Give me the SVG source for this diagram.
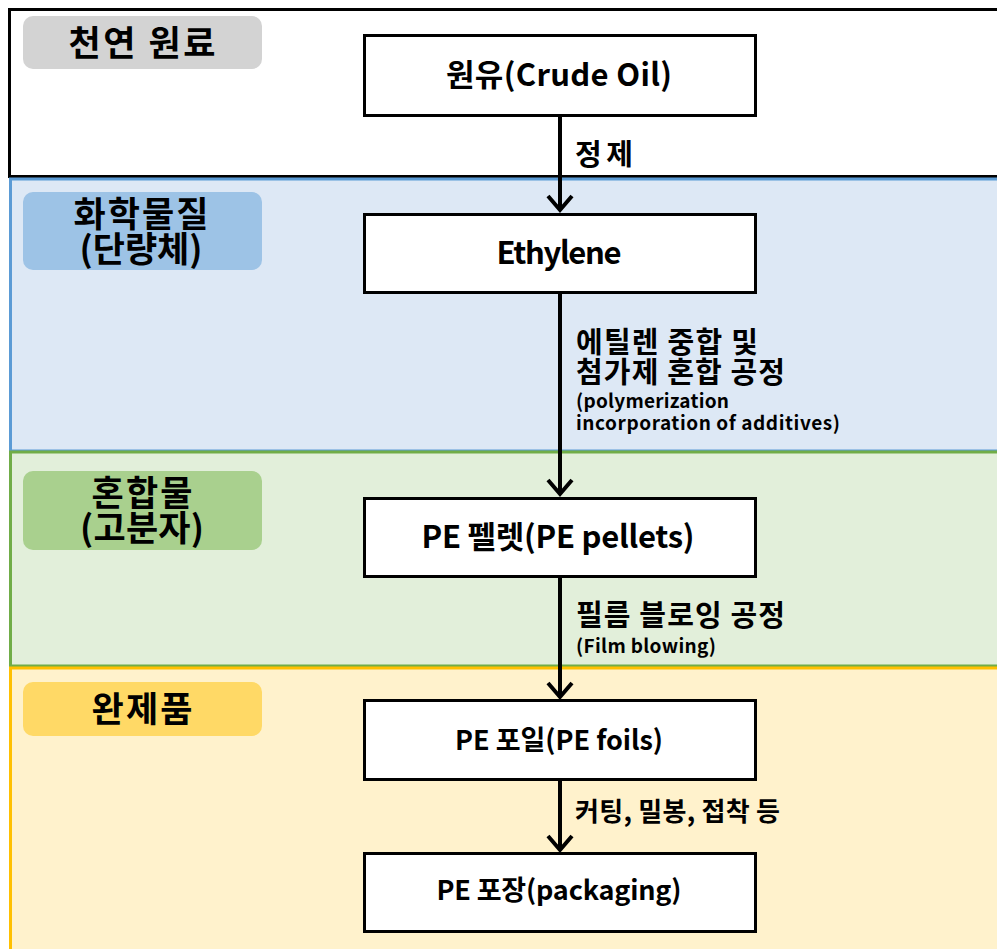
<svg xmlns="http://www.w3.org/2000/svg" width="997" height="949" viewBox="0 0 997 949">
<style>
text{font-family:"Noto Sans CJK KR","Malgun Gothic",sans-serif;font-weight:700;fill:#000}
.node rect{fill:#fff;stroke:#000;stroke-width:3}
.nt{font-size:31px;text-anchor:middle}
.nt2{font-size:27px;text-anchor:middle}
.pl{font-size:35px;text-anchor:middle}
.lk{font-size:29px}
.le{font-size:19px}
.conn line{stroke:#000;stroke-width:4}
.conn path{fill:none;stroke:#000;stroke-width:4}
</style>
<rect width="997" height="949" fill="#fff"/>
<g id="band-raw">
<rect x="9.5" y="9.5" width="1000" height="167" fill="#fff" stroke="#000" stroke-width="3"/>
<rect x="23" y="16" width="239" height="53" rx="10" fill="#d3d3d3"/>
<text class="pl" x="142" y="56" textLength="147" lengthAdjust="spacing">천연 원료</text>
</g>
<g id="band-chem">
<rect x="10.5" y="179" width="1000" height="272" fill="#dde8f5" stroke="#5b9bd5" stroke-width="3"/>
<rect x="23" y="192" width="239" height="78" rx="10" fill="#9dc3e6"/>
<text class="pl"><tspan x="141" y="227" textLength="135" lengthAdjust="spacing">화학물질</tspan><tspan x="141" y="262" textLength="123" lengthAdjust="spacing">(단량체)</tspan></text>
</g>
<g id="band-mix">
<rect x="10.5" y="452" width="1000" height="214" fill="#e2efda" stroke="#70ad47" stroke-width="3"/>
<rect x="23" y="471" width="239" height="79" rx="10" fill="#a9d08e"/>
<text class="pl"><tspan x="142" y="506" textLength="101" lengthAdjust="spacing">혼합물</tspan><tspan x="142" y="541" textLength="124" lengthAdjust="spacing">(고분자)</tspan></text>
</g>
<g id="band-final">
<rect x="10.5" y="668" width="1000" height="300" fill="#fff2cc" stroke="#ffc000" stroke-width="3"/>
<rect x="23" y="682" width="239" height="54" rx="10" fill="#ffd966"/>
<text class="pl" x="142" y="722" textLength="101" lengthAdjust="spacing">완제품</text>
</g>
<g class="conn" id="connectors">
<line x1="560" y1="117" x2="560" y2="210"/>
<path d="M548,196 L560,210 L572,196"/>
<line x1="560" y1="294" x2="560" y2="494"/>
<path d="M548,480 L560,494 L572,480"/>
<line x1="560" y1="578" x2="560" y2="697"/>
<path d="M548,683 L560,697 L572,683"/>
<line x1="560" y1="781" x2="560" y2="850"/>
<path d="M548,836 L560,850 L572,836"/>
<text class="lk" x="575" y="165" textLength="58" lengthAdjust="spacing">정제</text>
<text class="lk"><tspan x="576" y="353" textLength="182" lengthAdjust="spacing">에틸렌 중합 및</tspan><tspan x="576" y="383" textLength="209" lengthAdjust="spacing">첨가제 혼합 공정</tspan></text>
<text class="le"><tspan x="576" y="408" textLength="153" lengthAdjust="spacing">(polymerization</tspan><tspan x="576" y="430" textLength="264" lengthAdjust="spacing">incorporation of additives)</tspan></text>
<text class="lk" x="576" y="626" textLength="209" lengthAdjust="spacing">필름 블로잉 공정</text>
<text class="le" x="576" y="653" textLength="140" lengthAdjust="spacing">(Film blowing)</text>
<text class="lk" x="575" y="821" style="font-size:26px" textLength="205" lengthAdjust="spacing">커팅, 밀봉, 접착 등</text>
</g>
<g class="node" id="n-crude"><rect x="364.5" y="35.5" width="391" height="80"/><text class="nt" x="559" y="86" textLength="226" lengthAdjust="spacing">원유(Crude Oil)</text></g>
<g class="node" id="n-ethylene"><rect x="364.5" y="214.5" width="391" height="78"/><text class="nt" x="559" y="264" textLength="125" lengthAdjust="spacing">Ethylene</text></g>
<g class="node" id="n-pellets"><rect x="364.5" y="498.5" width="391" height="78"/><text class="nt" x="558" y="548" textLength="273" lengthAdjust="spacing">PE 펠렛(PE pellets)</text></g>
<g class="node" id="n-foils"><rect x="364.5" y="700.5" width="391" height="79"/><text class="nt2" x="559" y="750" textLength="208" lengthAdjust="spacing">PE 포일(PE foils)</text></g>
<g class="node" id="n-packaging"><rect x="364.5" y="853.5" width="391" height="78"/><text class="nt2" x="559" y="900" textLength="245" lengthAdjust="spacing">PE 포장(packaging)</text></g>
</svg>
